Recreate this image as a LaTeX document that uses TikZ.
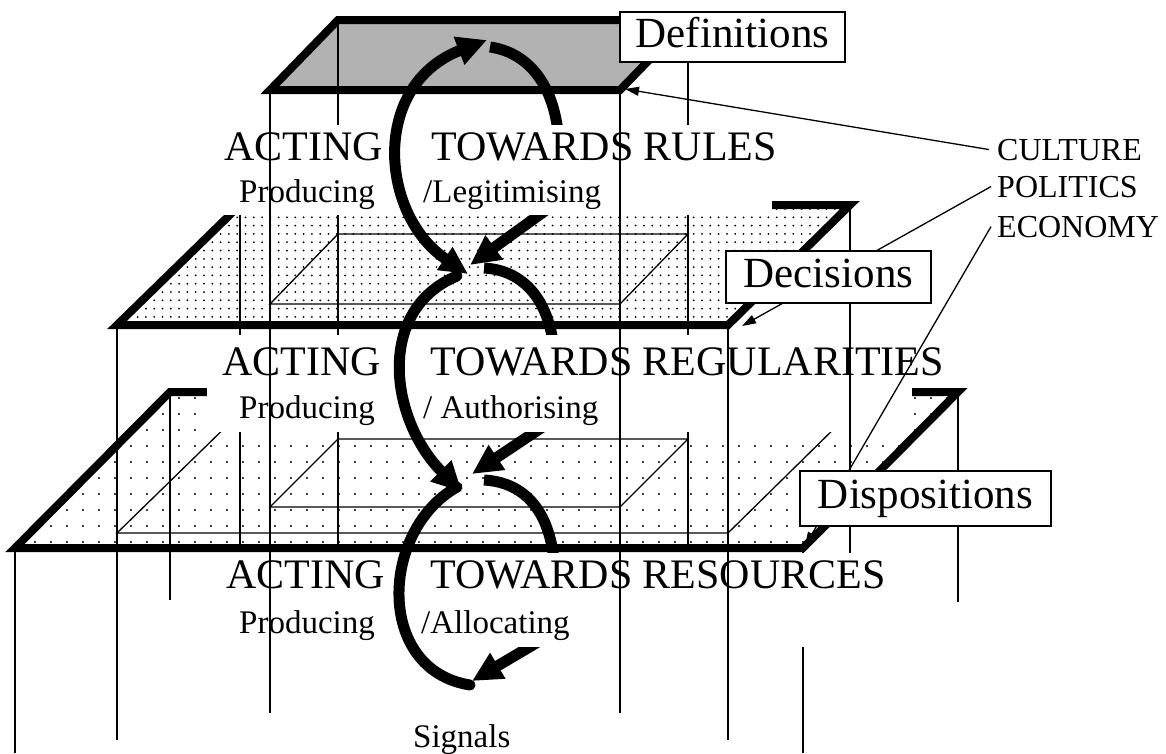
\documentclass[tikz,border=0pt]{standalone}
\usepackage{fontspec}
\setmainfont{Liberation Serif}
\usetikzlibrary{arrows.meta}
\newcommand\bigtxt{\fontsize{42pt}{48pt}\selectfont}
\newcommand\smtxt{\fontsize{33pt}{38pt}\selectfont}
\newcommand\sidetxt{\fontsize{32pt}{38pt}\selectfont}
\newcommand\boxtxt{\fontsize{43pt}{48pt}\selectfont}
\begin{document}
\begin{tikzpicture}[x=1pt,y=-1pt,
  edge/.style={line width=8pt, line join=miter},
  hair/.style={line width=1.3pt},
  arcstroke/.style={line width=11pt, line cap=round},
  bighead/.style={-{Triangle[length=30pt,width=28pt]}},
  pointer/.style={hair, -{Triangle[length=14pt,width=9pt]}},
  cover/.style={fill=white},
  lbl/.style={anchor=base west, inner sep=0pt},
  tag/.style={draw, line width=1.4pt, fill=white, inner sep=0pt,
    font=\boxtxt, text height=30pt, text depth=9.5pt}]
\useasboundingbox (0,0) rectangle (1166,753);
\fill[white] (0,0) rectangle (1166,753);

% ---- plane fills ----
\fill[black!30] (270,90) -- (620,90) -- (688,20) -- (338,20) -- cycle;
\begin{scope}
  \clip (117,325) -- (728,325) -- (850,205) -- (240,205) -- cycle;
  \fill foreach \i in {0,...,88}{ foreach \j in {0,...,14}{
    (121+\i*8.3,209+\j*8.3) circle[radius=1pt] } };
\end{scope}
\begin{scope}
  \clip (15,548) -- (803,548) -- (958,392) -- (170,392) -- cycle;
  \fill foreach \i in {0,...,59}{ foreach \j in {0,...,9}{
    (19+\i*16,398+\j*16) circle[radius=1.1pt] } };
\end{scope}

% ---- projected outlines on the lower planes ----
\draw[hair] (270,304) -- (620,304) -- (688,234) -- (338,234) -- cycle;
\draw[hair] (270,507) -- (620,507) -- (688,439) -- (338,439) -- cycle;
\draw[hair] (117,533) -- (728,533) -- (850,413) -- (240,413) -- cycle;

% ---- plane borders ----
\draw[edge] (270,90) -- (620,90) -- (688,20) -- (338,20) -- cycle;
\draw[edge] (117,325) -- (728,325) -- (850,205) -- (240,205) -- cycle;
\draw[edge] (15,548) -- (803,548) -- (958,392) -- (170,392) -- cycle;

% ---- pillars running behind the captions ----
\draw[hair] (338,20) -- (338,548);
\draw[hair] (688,20) -- (688,548);
\draw[hair] (240,205) -- (240,545);
\draw[hair] (803,548) -- (803,753);

% ---- right halves of the loops ----
\draw[arcstroke, line cap=butt] (490,47) .. controls (525,52) and (552,80) .. (558,132);
\draw[arcstroke, line cap=butt, bighead] (553,205) -- (470,265);
\draw[arcstroke, line cap=butt] (484,268) .. controls (520,270) and (546,295) .. (553,342);
\draw[arcstroke, line cap=butt, bighead] (550,422) -- (472,474);
\draw[arcstroke, line cap=butt] (484,480) .. controls (520,482) and (548,505) .. (554,560);
\draw[arcstroke, line cap=butt, bighead] (548,636) -- (472,681);

% ---- caption backgrounds ----
\fill[cover] (222,125) rectangle (772,215);
\fill[cover] (207,335) rectangle (912,432);
\fill[cover] (222,553) rectangle (905,647);

% ---- captions ----
\node[lbl, font=\bigtxt] (rulesA) at (224,160) {ACTING};
\node[lbl, font=\bigtxt] (rulesB) at (431,160) {TOWARDS RULES};
\node[lbl, font=\smtxt] (rulesC) at (239,202) {Producing};
\node[lbl, font=\smtxt] (rulesD) at (423,202) {/Legitimising};

\node[lbl, font=\bigtxt] (regA) at (222,375) {ACTING};
\node[lbl, font=\bigtxt] (regB) at (430,375) {TOWARDS REGULARITIES};
\node[lbl, font=\smtxt] (regC) at (239,418) {Producing};
\node[lbl, font=\smtxt] (regD) at (423,418) {/ Authorising};

\node[lbl, font=\bigtxt] (resA) at (226,588) {ACTING};
\node[lbl, font=\bigtxt] (resB) at (430,588) {TOWARDS RESOURCES};
\node[lbl, font=\smtxt] (resC) at (239,633) {Producing};
\node[lbl, font=\smtxt] (resD) at (421,633) {/Allocating};

\node[lbl, font=\smtxt] (signals) at (413,747) {Signals};

% ---- pillars drawn over the captions ----
\draw[hair] (270,90) -- (270,713);
\draw[hair] (620,90) -- (620,713);
\draw[hair] (117,325) -- (117,740);
\draw[hair] (728,325) -- (728,740);
\draw[hair] (850,205) -- (850,553);
\draw[hair] (15,548) -- (15,753);
\draw[hair] (170,392) -- (170,600);
\draw[hair] (958,392) -- (958,602);

% ---- left halves of the loops ----
\draw[arcstroke, {Triangle[length=28pt,width=26pt]}-{Triangle[length=30pt,width=28pt]}]
  (468,274) .. controls (380,215) and (370,85) .. (487,40);
\draw[arcstroke, bighead] (457,276) .. controls (375,310) and (390,420) .. (462,492);
\draw[arcstroke] (457,487) .. controls (380,530) and (375,670) .. (470,685);

% ---- side labels and their pointers ----
\node[lbl, font=\sidetxt] (culture) at (997,160) {CULTURE};
\node[lbl, font=\sidetxt] (politics) at (997,197) {POLITICS};
\node[lbl, font=\sidetxt] (economy) at (997,237) {ECONOMY};
\coordinate (topcorner) at (625,89);
\coordinate (midcorner) at (742,326);
\coordinate (lowcorner) at (805,546);
\draw[pointer] ([xshift=-8pt]culture.west) -- (topcorner);
\draw[pointer] ([xshift=-6pt]politics.west) -- (midcorner);
\draw[pointer] ([xshift=-6pt]economy.west) -- (lowcorner);

% ---- plane tags ----
\node[tag, minimum width=225pt, minimum height=50pt] (defs) at (732.5,37) {Definitions};
\node[tag, minimum width=205pt, minimum height=52pt] (decs) at (828.5,277) {Decisions};
\node[tag, minimum width=251pt, minimum height=55pt] (disps) at (925.5,498.5) {Dispositions};
\end{tikzpicture}
\end{document}
